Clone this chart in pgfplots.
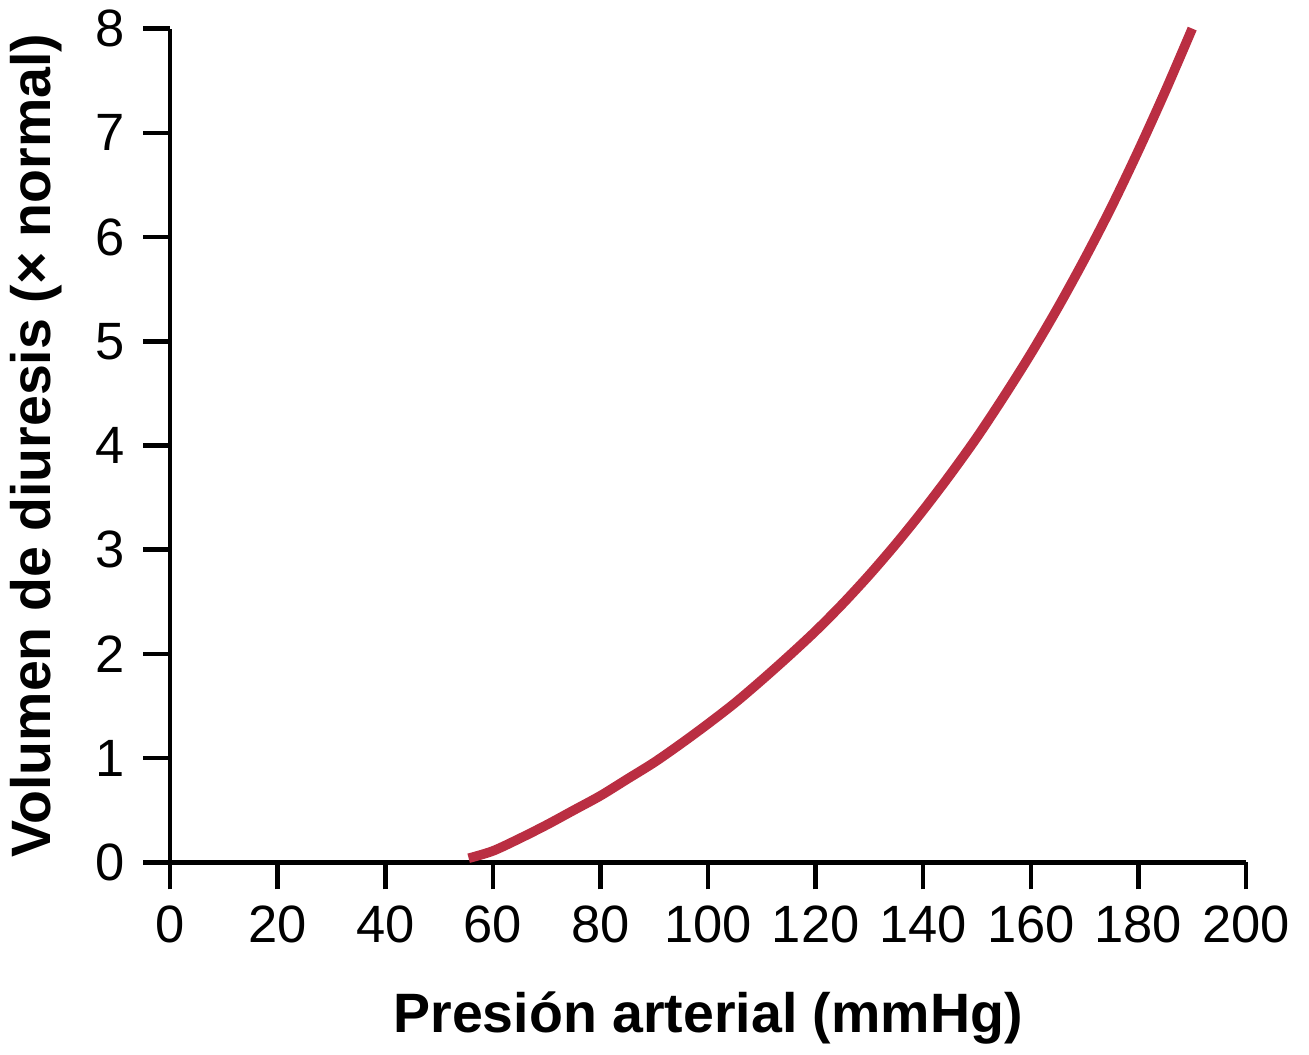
\documentclass[border=0pt]{standalone}
\usepackage{pgfplots}
\pgfplotsset{compat=1.18}
\usepackage{fontspec}
\setmainfont{Liberation Sans}
\definecolor{curvered}{RGB}{186,46,66}
\begin{document}
\begin{tikzpicture}
\begin{axis}[
  scale only axis,
  width=358.7pt, height=278pt,
  xmin=0, xmax=200, ymin=0, ymax=8,
  axis x line=bottom, axis y line=left,
  axis line style={-, line width=1.5pt},
  tick style={line width=1.5pt, black},
  tick align=outside,
  major tick length=9pt,
  xtick={0,20,...,200}, ytick={0,1,...,8},
  minor tick num=0,
  ticklabel style={font=\fontsize{17.5}{19}\selectfont},
  xticklabel style={yshift=-2pt},
  yticklabel style={xshift=-2.5pt},
  /pgf/number format/assume math mode=true,
  xlabel={\textbf{Presión arterial (mmHg)}},
  ylabel={\textbf{Volumen de diuresis (× normal)}},
  label style={font=\fontsize{18.5}{21}\selectfont},
  xlabel style={yshift=-9.5pt},
  ylabel shift=4.5pt,
  clip=false,
]
\addplot[curvered, line width=3.2pt, smooth, tension=0.5] coordinates {
(55.5,0.04) (60,0.11) (65,0.23) (70,0.36) (75,0.50) (80,0.64) (85,0.80)
(90,0.96) (95,1.14) (100,1.33) (105,1.53) (110,1.75) (115,1.98) (120,2.22)
(125,2.48) (130,2.76) (135,3.06) (140,3.38) (145,3.72) (150,4.08) (155,4.47)
(160,4.88) (165,5.32) (170,5.79) (175,6.29) (180,6.83) (185,7.40) (190,8.0)
};
\path (rel axis cs:1,0) ++(21pt,0pt);
\end{axis}
\end{tikzpicture}
\end{document}
